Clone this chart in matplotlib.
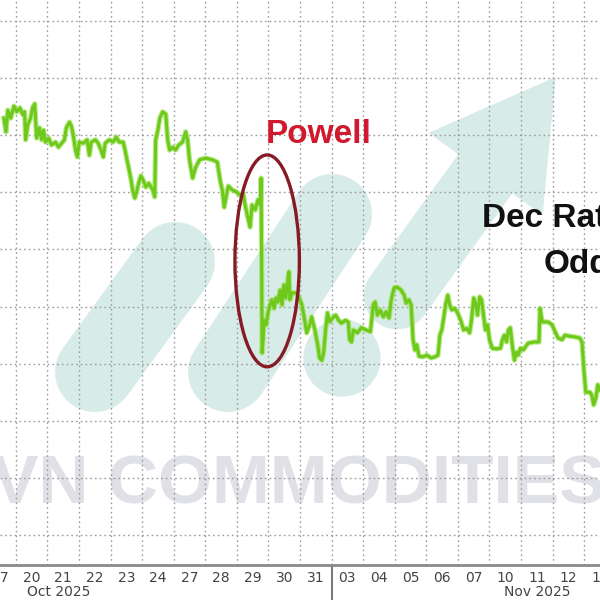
import matplotlib
matplotlib.use("Agg")
import numpy as np
import matplotlib.pyplot as plt
import matplotlib.transforms as mtransforms
from matplotlib.patches import Ellipse, Polygon, Circle
from matplotlib.lines import Line2D

# ---- data: trading-day index (0 = Oct 17) and Dec rate-cut odds (arbitrary units) ----
t = [0.62, 0.69, 0.75, 0.84, 0.94, 1.03, 1.13, 1.22, 1.28, 1.31, 1.38, 1.47, 1.53, 1.60,
     1.66, 1.75, 1.82, 1.88, 1.94, 2.04, 2.13, 2.26, 2.35, 2.45, 2.54, 2.60, 2.70, 2.76,
     2.82, 2.89, 2.95, 3.01, 3.14, 3.26, 3.33, 3.39, 3.52, 3.61, 3.70, 3.77, 3.83, 3.96,
     4.08, 4.18, 4.27, 4.40, 4.46, 4.52, 4.59, 4.65, 4.71, 4.77, 4.84, 4.90, 4.96, 5.03,
     5.12, 5.21, 5.34, 5.40, 5.43, 5.50, 5.56, 5.65, 5.75, 5.81, 5.87, 5.97, 6.06, 6.16,
     6.28, 6.38, 6.44, 6.50, 6.60, 6.69, 6.82, 7.01, 7.23, 7.38, 7.48, 7.54, 7.60, 7.67,
     7.73, 7.86, 7.98, 8.11, 8.20, 8.26, 8.33, 8.42, 8.48, 8.58, 8.67, 8.74, 8.77, 8.80,
     8.83, 8.86, 8.93, 8.99, 9.05, 9.11, 9.18, 9.24, 9.30, 9.37, 9.43, 9.49, 9.55, 9.62,
     9.65, 9.68, 9.74, 9.87, 9.96, 10.06, 10.15, 10.21, 10.31, 10.37, 10.47, 10.56, 10.62,
     10.69, 10.75, 10.81, 10.87, 10.94, 11.03, 11.13, 11.22, 11.31, 11.44, 11.53, 11.57,
     11.63, 11.69, 11.82, 11.94, 12.10, 12.23, 12.32, 12.38, 12.45, 12.54, 12.64, 12.73,
     12.82, 12.89, 12.98, 13.08, 13.20, 13.30, 13.36, 13.45, 13.52, 13.58, 13.64, 13.70,
     13.77, 13.89, 14.02, 14.15, 14.27, 14.37, 14.43, 14.49, 14.55, 14.62, 14.68, 14.74,
     14.81, 14.90, 14.99, 15.09, 15.18, 15.28, 15.37, 15.43, 15.50, 15.56, 15.62, 15.69,
     15.75, 15.81, 15.87, 15.94, 16.00, 16.09, 16.22, 16.35, 16.41, 16.47, 16.54, 16.60,
     16.66, 16.72, 16.79, 16.85, 16.91, 16.98, 17.07, 17.16, 17.23, 17.42, 17.57, 17.60,
     17.67, 17.86, 17.98, 18.08, 18.17, 18.30, 18.39, 18.55, 18.70, 18.86, 18.93, 18.99,
     19.05, 19.18, 19.24, 19.30, 19.37, 19.43, 19.49]
odds = [83.0, 80.6, 84.4, 83.0, 85.1, 84.1, 84.8, 83.6, 84.1, 79.2, 81.8, 83.0, 84.8, 85.5,
        79.5, 81.3, 79.2, 80.9, 78.8, 79.5, 78.3, 78.8, 77.9, 78.6, 79.2, 81.3, 82.3, 81.6,
        80.0, 77.4, 76.2, 78.8, 78.6, 79.2, 76.5, 78.8, 79.2, 78.6, 77.4, 76.2, 78.6, 79.2,
        78.8, 79.7, 78.8, 78.8, 77.4, 75.7, 73.9, 72.2, 70.1, 69.0, 70.4, 71.8, 72.9, 72.2,
        70.9, 71.6, 70.4, 69.2, 79.2, 80.9, 83.0, 84.1, 83.7, 79.2, 77.4, 77.9, 77.4, 78.3,
        78.8, 80.6, 79.2, 75.7, 72.5, 74.3, 75.7, 76.0, 75.7, 75.3, 71.8, 70.4, 67.4, 69.5,
        71.1, 70.4, 70.1, 69.5, 69.9, 67.8, 66.0, 63.9, 67.8, 66.9, 68.7, 67.8, 72.5, 41.9,
        44.2, 47.6, 46.8, 49.0, 50.3, 51.2, 49.7, 51.5, 50.8, 52.9, 50.3, 53.8, 51.5, 55.0,
        56.1, 51.2, 52.4, 52.4, 51.7, 50.3, 47.6, 45.4, 46.8, 48.2, 45.9, 43.3, 41.0,
        40.6, 42.0, 45.9, 48.9, 47.3, 48.0, 48.5, 47.6, 47.1, 47.6, 47.3, 44.2,
        43.8, 45.9, 45.4, 46.3, 45.9, 45.6, 50.3, 50.8, 48.5, 49.4, 48.2, 49.1,
        48.0, 51.2, 53.3, 53.4, 52.9, 52.0, 50.6, 51.2, 50.3, 44.2, 42.4, 43.3,
        41.3, 41.2, 41.5, 41.0, 41.2, 41.5, 45.0, 45.9, 48.0, 50.6, 52.0, 50.3,
        49.4, 49.7, 48.9, 47.6, 45.9, 46.2, 45.4, 47.6, 51.5, 50.6, 48.5, 51.7,
        51.2, 48.5, 45.9, 46.8, 44.2, 42.7, 42.6, 42.7, 44.2, 45.0, 43.8, 45.9,
        46.3, 43.3, 40.6, 42.0, 41.5, 42.7, 42.4, 43.1, 43.6, 43.8, 43.8, 49.7,
        47.3, 47.3, 46.8, 45.6, 44.5, 44.2, 45.0, 44.8, 44.7, 44.5, 43.8, 38.9,
        35.0, 35.0, 34.5, 32.8, 34.0, 36.3, 35.4]

day_labels = ["17", "20", "21", "22", "23", "24", "27", "28", "29", "30", "31",
              "03", "04", "05", "06", "07", "10", "11", "12", "13"]
month_labels = ["Oct 2025", "Nov 2025"]
month_pos = [2.35, 17.5]
month_break = 11

# ---- figure ----
fig = plt.figure(figsize=(6, 6), dpi=100)
fig.patch.set_facecolor("white")
ax = fig.add_axes([0, 35 / 600, 1, 565 / 600])
ax.set_facecolor("white")
ax.set_xlim(0.623, 19.49)
ax.set_ylim(4.75, 103.68)

# pixel transform (x from left, y from top) for decorations
px = mtransforms.Affine2D().scale(1, -1).translate(0, 600)

# ---- watermark ----
teal = "#d7ece8"
for (x0, y0, x1, y1) in [(95, 372, 175, 262), (228, 372, 332, 214)]:
    ax.add_line(Line2D([x0, x1], [y0, y1], transform=px, color=teal, lw=57.6,
                       solid_capstyle="round", zorder=0.2))
ax.add_patch(Circle((342, 358), 38, transform=px, color=teal, zorder=0.2))
ax.add_line(Line2D([397, 488], [296, 170], transform=px, color=teal, lw=48,
                   solid_capstyle="round", zorder=0.2))
ax.add_patch(Polygon([(555, 78), (430, 133), (542, 214)], closed=True, transform=px,
                     color=teal, zorder=0.2))
ax.text(299, 503, "VN COMMODITIES", transform=px, ha="center", va="baseline",
        fontsize=50, fontweight="bold", family="Liberation Sans", color="#e0e1e7",
        zorder=0.3)

# ---- grid / axes ----
ax.set_xticks(np.arange(1, 20))
ax.set_xticklabels([])
ax.set_xticks(np.arange(20) + 0.5, minor=True)
ax.set_xticklabels(day_labels, minor=True)
ax.set_yticks(np.arange(10, 101, 10))
ax.tick_params(axis="x", which="both", length=0)
ax.tick_params(axis="x", which="minor", labelsize=10, labelcolor="#444444", pad=4)
ax.tick_params(axis="y", left=False, labelleft=False)
ax.set_axisbelow("line")
ax.grid(True, which="major", color="#9c9c9c", linestyle=(0, (1.2, 2.2)), lw=1.0)
for s in ["top", "left", "right"]:
    ax.spines[s].set_visible(False)
ax.spines["bottom"].set_color("#8a8a8a")
ax.spines["bottom"].set_linewidth(2)

# ---- series ----
ax.plot(t, odds, color="#9be254", lw=3.8, alpha=0.7, zorder=3, solid_joinstyle="round")
ax.plot(t, odds, color="#6fc81c", lw=2.2, zorder=3.1, solid_joinstyle="round")

# ---- annotations ----
ax.add_patch(Ellipse((8.96, 58.0), 2.04, 37.1, fill=False, edgecolor="#861b26",
                     lw=2.4, zorder=4))
ax.text(319, 143, "Powell", transform=px, ha="center", va="baseline", fontsize=24,
        fontweight="bold", family="Liberation Sans", color="#d0182e", zorder=5)
ax.text(586, 227, "Dec Rate Cut", transform=px, ha="center", va="baseline", fontsize=24,
        fontweight="bold", family="Liberation Sans", color="#111111", zorder=5)
ax.text(586, 273, "Odds", transform=px, ha="center", va="baseline", fontsize=24,
        fontweight="bold", family="Liberation Sans", color="#111111", zorder=5)

bt = mtransforms.blended_transform_factory(ax.transData, px)
for lab, pos in zip(month_labels, month_pos):
    ax.text(pos, 592, lab, transform=bt, ha="center", va="center", fontsize=10,
            color="#444444", clip_on=False)
ax.add_line(Line2D([month_break, month_break], [565, 600], transform=bt,
                   color="#7a7a7a", lw=1.5, clip_on=False))

fig.savefig("out.png", dpi=100)
